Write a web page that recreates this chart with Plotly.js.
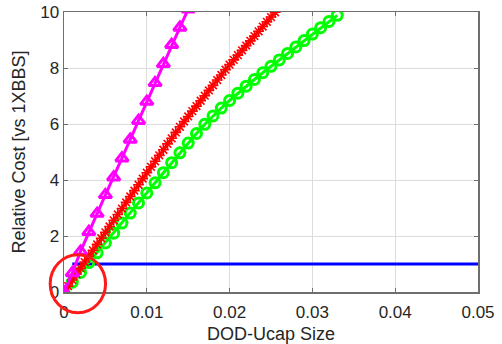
<!DOCTYPE html>
<html>
<head>
<meta charset="utf-8">
<script src="https://cdn.plot.ly/plotly-3.0.1.min.js"></script>
<style>html,body{margin:0;padding:0;background:#fff;}#chart{width:502px;height:344px;}</style>
</head>
<body>
<div id="chart"></div>
<script>
// Magenta series (triangles), x step 0.001
const magentaX = [0,0.001,0.002,0.003,0.004,0.005,0.006,0.007,0.008,0.009,0.010,0.011,0.012,0.013,0.014,0.015];
const magentaY = [0,0.68,1.45,2.15,2.80,3.47,4.10,4.78,5.45,6.12,6.80,7.47,8.15,8.83,9.45,10.10];

// Red series (asterisks), x step 0.0005
const redX = [0,0.0005,0.001,0.0015,0.002,0.0025,0.003,0.0035,0.004,0.0045,0.005,0.0055,0.006,0.0065,0.007,0.0075,0.008,0.0085,0.009,0.0095,0.010,0.0105,0.011,0.0115,0.012,0.0125,0.013,0.0135,0.014,0.0145,0.015,0.0155,0.016,0.0165,0.017,0.0175,0.018,0.0185,0.019,0.0195,0.020,0.0205,0.021,0.0215,0.022,0.0225,0.023,0.0235,0.024,0.0245,0.025,0.0255,0.026];
const redY = [0,0.21,0.43,0.64,0.85,1.07,1.28,1.49,1.70,1.92,2.13,2.34,2.56,2.77,2.98,3.20,3.41,3.62,3.83,4.05,4.26,4.47,4.67,4.88,5.08,5.29,5.49,5.70,5.90,6.09,6.27,6.46,6.64,6.83,7.01,7.20,7.38,7.57,7.75,7.94,8.12,8.29,8.46,8.63,8.80,8.97,9.14,9.31,9.48,9.65,9.82,9.99,10.16];

// Green series (circles), x step 0.001
const greenX = [0,0.001,0.002,0.003,0.004,0.005,0.006,0.007,0.008,0.009,0.010,0.011,0.012,0.013,0.014,0.015,0.016,0.017,0.018,0.019,0.020,0.021,0.022,0.023,0.024,0.025,0.026,0.027,0.028,0.029,0.030,0.031,0.032,0.033];
const greenY = [0,0.35,0.70,1.05,1.40,1.75,2.10,2.46,2.82,3.18,3.54,3.90,4.26,4.62,4.97,5.32,5.66,5.99,6.29,6.57,6.84,7.10,7.35,7.59,7.83,8.06,8.29,8.52,8.75,8.98,9.21,9.44,9.66,9.88];

// Blue series (reference level)
const blueX = [0.001,0.05];
const blueY = [1,1];

const xTicks = [0,0.01,0.02,0.03,0.04,0.05];
const xTickText = ['0','0.01','0.02','0.03','0.04','0.05'];
const yTicks = [0,2,4,6,8,10];
const yTickText = ['0','2','4','6','8','10'];

const traces = [
  {x: blueX, y: blueY, mode: 'lines', line: {color: '#0000ff', width: 3}, hoverinfo: 'skip'},
  {x: greenX, y: greenY, mode: 'lines+markers', line: {color: '#00ff00', width: 3},
   marker: {symbol: 'circle-open', size: 10, color: '#00ff00', line: {width: 3, color: '#00ff00'}}},
  {x: redX, y: redY, mode: 'lines+markers', line: {color: '#ff0000', width: 3},
   marker: {symbol: 'asterisk-open', size: 9, color: '#ff0000', line: {width: 1.6, color: '#ff0000'}}},
  {x: magentaX, y: magentaY, mode: 'lines+markers', line: {color: '#ff00ff', width: 3},
   marker: {symbol: 'triangle-up-open', size: 11, color: '#ff00ff', line: {width: 3, color: '#ff00ff'}}}
];

const axisFont = {family: 'Liberation Sans, Arial, sans-serif', size: 17, color: '#262626'};
const titleFont = {family: 'Liberation Sans, Arial, sans-serif', size: 18, color: '#262626'};

const layout = {
  width: 502, height: 344,
  margin: {l: 64, r: 24, t: 12, b: 52},
  paper_bgcolor: '#ffffff', plot_bgcolor: '#ffffff',
  showlegend: false,
  xaxis: {
    range: [0, 0.05], tickvals: xTicks, ticktext: xTickText,
    showgrid: true, gridcolor: '#dcdcdc', gridwidth: 1, zeroline: false,
    showline: true, linecolor: '#6e6e6e', linewidth: 1.5, mirror: 'ticks',
    ticks: 'inside', ticklen: 4, tickcolor: '#6e6e6e',
    tickfont: axisFont, ticklabelstandoff: 4,
    title: {text: 'DOD-Ucap Size', font: titleFont, standoff: 6}
  },
  yaxis: {
    range: [0, 10], tickvals: yTicks, ticktext: yTickText,
    showgrid: true, gridcolor: '#dcdcdc', gridwidth: 1, zeroline: false,
    showline: true, linecolor: '#6e6e6e', linewidth: 1.5, mirror: 'ticks',
    ticks: 'inside', ticklen: 4, tickcolor: '#6e6e6e',
    tickfont: axisFont,
    title: {text: 'Relative Cost [vs 1XBBS]', font: titleFont, standoff: 10}
  },
  shapes: [
    {type: 'circle', xref: 'paper', yref: 'paper', x0: -0.0334, x1: 0.1004, y0: -0.074, y1: 0.133,
     line: {color: '#ff1a1a', width: 3}, layer: 'above'}
  ]
};

Plotly.newPlot('chart', traces, layout, {displayModeBar: false, staticPlot: true});
</script>
</body>
</html>
